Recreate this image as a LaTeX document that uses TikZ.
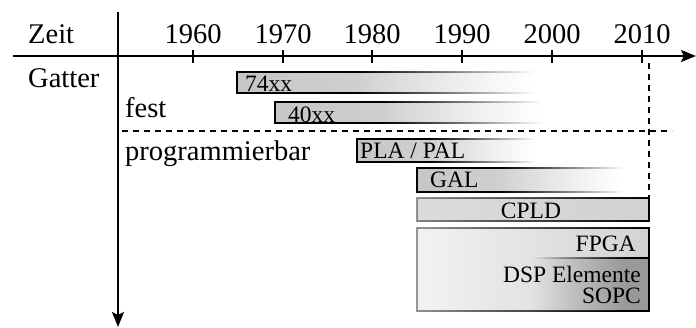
\documentclass[tikz,border=0pt]{standalone}
\usepackage{fontspec}
\setmainfont{Liberation Serif}
\usetikzlibrary{arrows.meta,fadings}
% path bbox maps to 25bp..75bp of the fading
\pgfdeclarehorizontalshading{myfadeoutshade}{100bp}{color(0bp)=(white); color(44bp)=(white); color(72bp)=(black); color(100bp)=(black)}
\pgfdeclarefading{myfadeout}{\pgfuseshading{myfadeoutshade}}
\pgfdeclarehorizontalshading{myfadeinshade}{100bp}{color(0bp)=(black!60); color(25bp)=(black!60); color(75bp)=(white); color(100bp)=(white)}
\pgfdeclarefading{myfadein}{\pgfuseshading{myfadeinshade}}
\pgfdeclarehorizontalshading{myfaderightshade}{100bp}{color(0bp)=(black); color(50bp)=(black); color(70bp)=(white); color(100bp)=(white)}
\pgfdeclarefading{myfaderight}{\pgfuseshading{myfaderightshade}}
\tikzset{
  axis/.style={line width=2.4pt},
  tick/.style={line width=1.8pt},
  guide/.style={line width=1.5pt, dash pattern=on 6pt off 5pt},
  bigtext/.style={font=\fontsize{28.5}{30}\selectfont, inner sep=0pt},
  bartext/.style={font=\fontsize{23.5}{25}\selectfont, inner sep=0pt},
  fadebar/.style={draw=black, line width=1.8pt, left color=gray!45, right color=gray!25, path fading=myfadeout},
}
\begin{document}
\begin{tikzpicture}[x=1pt,y=-1pt]
\useasboundingbox (0,0) rectangle (696,327);
% axes
\coordinate (hA) at (13,56);
\coordinate (hB) at (696,56);
\coordinate (vA) at (118,12);
\coordinate (vB) at (118,327);
\draw[axis,-{Stealth[length=15pt,width=12pt,inset=3pt]}] (hA) -- (hB);
\draw[axis,-{Stealth[length=15pt,width=12pt,inset=3pt]}] (vA) -- (vB);
% ticks and years
\foreach \yr/\xx in {1960/193,1970/283,1980/372,1990/462,2000/552,2010/642}{
  \draw[tick] (\xx,50) -- (\xx,63);
  \node[bigtext,anchor=base] (y\yr) at (\xx,43) {\yr};
}
% guides
\coordinate (dhA) at (122,131);
\coordinate (dhB) at (672,131);
\coordinate (dvA) at (649,63);
\coordinate (dvB) at (649,197);
\draw[guide] (dhA) -- (dhB);
\draw[guide] (dvA) -- (dvB);
% fixed bars
\path[fadebar] (237,72) rectangle (553,93);
\path[fadebar] (275,102) rectangle (558,123);
% programmable bars
\path[fadebar] (357,139) rectangle (546,162);
\path[fadebar] (417,168) rectangle (636,192);
% CPLD
\fill[left color=gray!28, right color=gray!36] (417,198) rectangle (649,221);
\draw[line width=1.8pt, path fading=myfadein] (417,198) rectangle (649,221);
% FPGA box
\fill[left color=gray!10, right color=gray!35] (417,228) rectangle (649,311);
\draw[line width=1.8pt, path fading=myfadein] (417,228) rectangle (649,311);
\path[draw=black, line width=1.6pt, fill=gray!80, path fading=myfaderight] (417,258) rectangle (649,311);
% labels
\node[bigtext,anchor=base west] (zeit) at (28,43) {Zeit};
\node[bigtext,anchor=base west] (gatter) at (28,87) {Gatter};
\node[bigtext,anchor=base west] (fest) at (125,117) {fest};
\node[bigtext,anchor=base west] (prog) at (125,160) {programmierbar};
\node[bartext,anchor=base west] (t74) at (245,91) {74xx};
\node[bartext,anchor=base west] (t40) at (288,122) {40xx};
\node[bartext,anchor=base west] (tpla) at (360,158) {PLA / PAL};
\node[bartext,anchor=base west] (tgal) at (430,187) {GAL};
\node[bartext,anchor=base] (tcpld) at (531,218) {CPLD};
\node[bartext,anchor=base east] (tfpga) at (636,251) {FPGA};
\node[bartext,anchor=north east, align=right, font=\fontsize{23.5}{21}\selectfont] (tdsp) at (641,266) {DSP Elemente\\SOPC};
\end{tikzpicture}
\end{document}
